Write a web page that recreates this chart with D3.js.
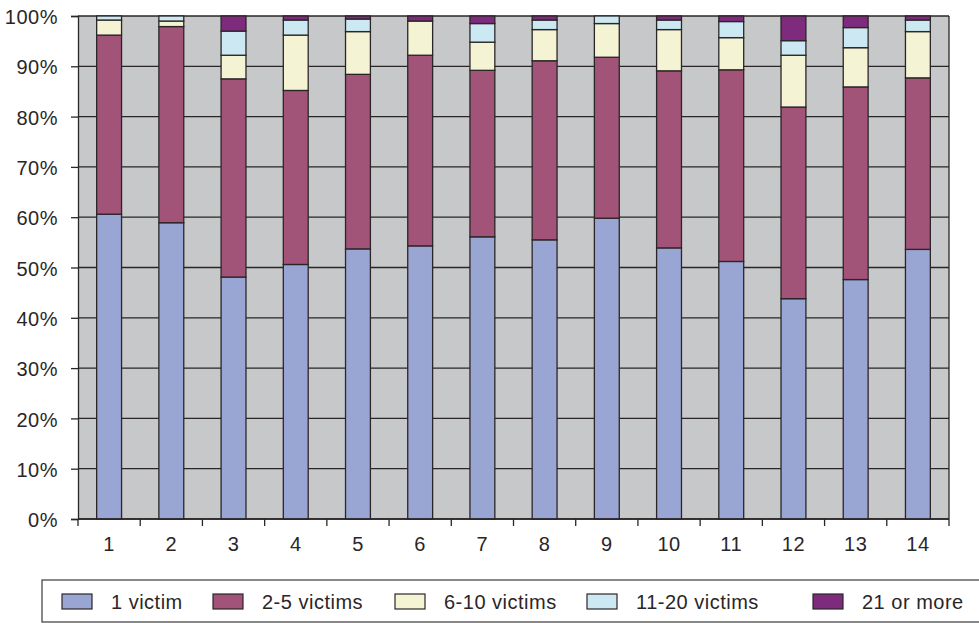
<!DOCTYPE html>
<html>
<head>
<meta charset="utf-8">
<script src="https://cdn.jsdelivr.net/npm/d3@7/dist/d3.min.js"></script>
<style>
  html, body { margin: 0; padding: 0; background: #ffffff; }
  svg { display: block; font-family: "Liberation Sans", Arial, Helvetica, sans-serif; }
  svg text { letter-spacing: 0.5px; }
</style>
</head>
<body>
<svg id="chart" width="979" height="623"></svg>
<script>
// Categories along the x axis
const categories = ["1","2","3","4","5","6","7","8","9","10","11","12","13","14"];

// Share of incidents (%) by number of victims, one array per series
const seriesNames = ["1 victim", "2-5 victims", "6-10 victims", "11-20 victims", "21 or more"];
const oneVictim     = [60.6, 58.9, 48.1, 50.6, 53.7, 54.3, 56.1, 55.5, 59.8, 53.9, 51.2, 43.8, 47.6, 53.6];
const twoToFive     = [35.6, 39.0, 39.4, 34.6, 34.7, 37.9, 33.1, 35.6, 32.0, 35.2, 38.1, 38.1, 38.3, 34.1];
const sixToTen      = [ 3.0,  1.1,  4.7, 11.0,  8.5,  6.8,  5.6,  6.2,  6.7,  8.2,  6.4, 10.3,  7.8,  9.2];
const elevenToTwenty= [ 0.8,  1.0,  4.8,  3.0,  2.5,  0.0,  3.7,  1.9,  1.5,  1.9,  3.2,  2.9,  4.0,  2.3];
const twentyOnePlus = [ 0.0,  0.0,  3.0,  0.8,  0.6,  1.0,  1.5,  0.8,  0.0,  0.8,  1.1,  4.9,  2.3,  0.8];

// Y axis tick values
const yTicks = [0, 10, 20, 30, 40, 50, 60, 70, 80, 90, 100];

const seriesColors = ["#99a6d3", "#a15378", "#f4f3d3", "#cce9f3", "#7e2b7d"];

// Build rows for the stack layout
const rows = categories.map((c, i) => ({
  cat: c,
  [seriesNames[0]]: oneVictim[i],
  [seriesNames[1]]: twoToFive[i],
  [seriesNames[2]]: sixToTen[i],
  [seriesNames[3]]: elevenToTwenty[i],
  [seriesNames[4]]: twentyOnePlus[i]
}));

const svg = d3.select("#chart");
const plot = { left: 78, right: 949, top: 16, bottom: 519 };
const ink = "#2a2627";
const fontSize = 20;

const x = d3.scaleBand()
  .domain(categories)
  .range([plot.left, plot.right])
  .paddingInner(0.6)
  .paddingOuter(0.3);

const y = d3.scaleLinear()
  .domain([0, 100])
  .range([plot.bottom, plot.top]);

// Plot background
svg.append("rect")
  .attr("x", plot.left).attr("y", plot.top)
  .attr("width", plot.right - plot.left)
  .attr("height", plot.bottom - plot.top)
  .attr("fill", "#c7c8ca");

// Horizontal gridlines
svg.append("g")
  .selectAll("line")
  .data(yTicks)
  .join("line")
  .attr("x1", plot.left).attr("x2", plot.right)
  .attr("y1", d => y(d)).attr("y2", d => y(d))
  .attr("stroke", ink).attr("stroke-width", 1.3);

// Right border of the plot area
svg.append("line")
  .attr("x1", plot.right).attr("x2", plot.right)
  .attr("y1", plot.top).attr("y2", plot.bottom)
  .attr("stroke", ink).attr("stroke-width", 1.3);

// Stacked bars
const stacked = d3.stack().keys(seriesNames)(rows);
svg.append("g")
  .selectAll("g")
  .data(stacked)
  .join("g")
  .attr("fill", (d, i) => seriesColors[i])
  .selectAll("rect")
  .data(d => d.filter(s => s[1] - s[0] > 0))
  .join("rect")
  .attr("x", d => x(d.data.cat))
  .attr("width", x.bandwidth())
  .attr("y", d => y(d[1]))
  .attr("height", d => y(d[0]) - y(d[1]))
  .attr("stroke", ink)
  .attr("stroke-width", 1.3);

// Y axis
const yAxis = svg.append("g")
  .attr("transform", `translate(${plot.left},0)`)
  .call(d3.axisLeft(y).tickValues(yTicks).tickSize(7).tickPadding(13).tickFormat(d => d + "%"));
yAxis.select(".domain").attr("stroke", ink).attr("stroke-width", 1.3);
yAxis.selectAll(".tick line").attr("stroke", ink).attr("stroke-width", 1.3);
yAxis.selectAll(".tick text")
  .attr("fill", ink)
  .attr("font-size", fontSize)
  .attr("font-family", "'Liberation Sans', Arial, sans-serif")
  .attr("dy", "0.38em");

// X axis: line, ticks at category boundaries, labels centred under bars
const xAxis = svg.append("g");
xAxis.append("line")
  .attr("x1", plot.left).attr("x2", plot.right)
  .attr("y1", plot.bottom).attr("y2", plot.bottom)
  .attr("stroke", ink).attr("stroke-width", 1.3);
const boundaries = d3.range(categories.length + 1).map(k => plot.left + k * x.step());
xAxis.selectAll("line.tick")
  .data(boundaries)
  .join("line")
  .attr("class", "tick")
  .attr("x1", d => d).attr("x2", d => d)
  .attr("y1", plot.bottom).attr("y2", plot.bottom + 7)
  .attr("stroke", ink).attr("stroke-width", 1.3);
xAxis.selectAll("text")
  .data(categories)
  .join("text")
  .attr("x", d => x(d) + x.bandwidth() / 2)
  .attr("y", 551)
  .attr("text-anchor", "middle")
  .attr("font-size", fontSize)
  .attr("fill", ink)
  .text(d => d);

// Legend
const legend = svg.append("g");
legend.append("rect")
  .attr("x", 42).attr("y", 580)
  .attr("width", 960).attr("height", 42)
  .attr("fill", "none")
  .attr("stroke", "#3a3a3a").attr("stroke-width", 1.2);
const swatchX = [62, 213, 395, 587, 813];
const items = legend.selectAll("g.item")
  .data(seriesNames)
  .join("g")
  .attr("class", "item")
  .attr("transform", (d, i) => `translate(${swatchX[i]},0)`);
items.append("rect")
  .attr("x", 0).attr("y", 594)
  .attr("width", 30).attr("height", 15)
  .attr("fill", (d, i) => seriesColors[i])
  .attr("stroke", ink).attr("stroke-width", 1.2);
items.append("text")
  .attr("x", 49).attr("y", 609)
  .attr("font-size", fontSize)
  .attr("fill", ink)
  .text(d => d);
</script>
</body>
</html>
